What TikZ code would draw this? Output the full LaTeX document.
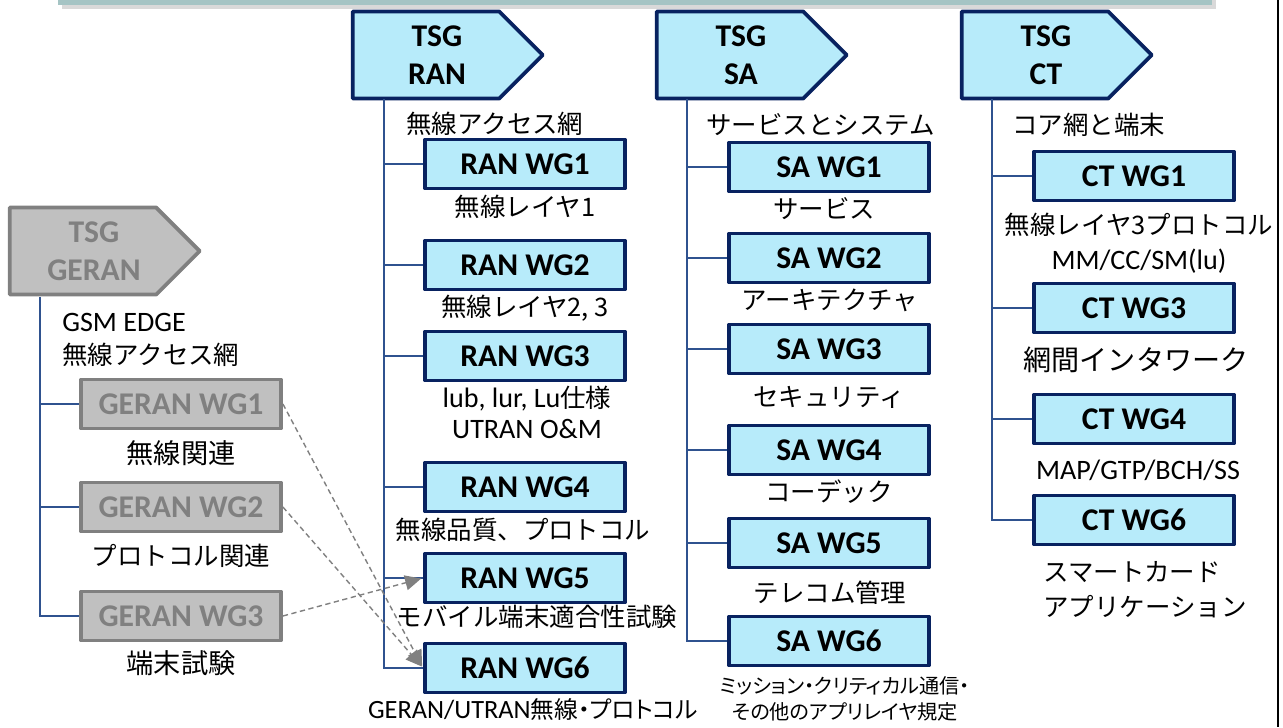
\documentclass[tikz,border=0pt]{standalone}
\usepackage{fontspec}
\setmainfont{Carlito}
\newfontfamily\jp{Noto Sans CJK JP}
\newfontfamily\jpp[RawFeature=+palt]{Noto Sans CJK JP}
\usepackage{tikz}
\usetikzlibrary{positioning, arrows.meta, shapes.symbols}
\definecolor{wgfill}{RGB}{183,235,250}
\definecolor{wgline}{RGB}{8,34,96}
\definecolor{oldfill}{RGB}{192,192,192}
\definecolor{oldline}{RGB}{128,128,128}
\definecolor{treeline}{RGB}{47,82,143}
\definecolor{barfill}{RGB}{165,196,196}
\newcommand{\lat}[1]{{\rmfamily\fontsize{16}{19}\selectfont #1}}
\newcommand{\pad}{\hspace*{0.44cm}}

\begin{document}
\begin{tikzpicture}[x=0.02cm, y=-0.02cm,
    tsg/.style={signal, signal to=east, signal pointer angle=90, draw=wgline, fill=wgfill,
        line width=2.2pt, line join=round, minimum width=3.8cm, minimum height=1.74cm,
        align=center, inner sep=0pt, font=\fontsize{18}{21.5}\selectfont\bfseries},
    wg/.style={rectangle, draw=wgline, fill=wgfill, line width=2.2pt, line join=round,
        minimum width=4cm, minimum height=0.98cm, inner sep=0pt,
        font=\fontsize{18}{21}\selectfont\bfseries},
    old/.style={draw=oldline, fill=oldfill, text=oldline},
    jlabel/.style={align=center, inner sep=0pt, font=\fontsize{14.5}{19}\selectfont\jp},
    llabel/.style={align=center, inner sep=0pt, font=\fontsize{16}{19}\selectfont},
    tree/.style={draw=treeline, line width=0.9pt},
    move/.style={draw=oldline, line width=0.8pt, dash pattern=on 3pt off 2pt, shorten >=0.04cm,
        -{Triangle[length=0.32cm, width=0.3cm]}}
]
\useasboundingbox (0,0) rectangle (1283,727);

% frame bits
\fill[gray!30] (62,0) rectangle (1216,9);
\fill[barfill] (58,0) rectangle (1212,5);
\draw[line width=0.04cm] (1278,0) -- (1278,727);

% TSG heads
\node[tsg, old] (tsggeran) at (83,251) {\pad TSG\\\pad GERAN};
\node[tsg] (tsgran) at (426,55) {\pad TSG\\\pad RAN};
\node[tsg] (tsgsa)  at (730,55) {\pad TSG\\\pad SA};
\node[tsg] (tsgct)  at (1035,55) {\pad TSG\\\pad CT};

\node[jlabel, anchor=west, align=left] (gerannote) at (62,340) {\lat{GSM EDGE}\\無線アクセス網};
\node[jlabel, anchor=west] (rannote) at (406,124) {無線アクセス網};
\node[jlabel, anchor=west] (sanote)  at (706,125) {サービスとシステム};
\node[jlabel, anchor=west] (ctnote)  at (1012,125) {コア網と端末};

% GERAN WGs
\node[wg, old] (geranwg1) at (181,404) {GERAN WG1};
\node[wg, old] (geranwg2) at (181,507) {GERAN WG2};
\node[wg, old] (geranwg3) at (181,616) {GERAN WG3};
\node[jlabel, font=\fontsize{15.5}{19}\selectfont\jp] (geranlab1) at (181,453) {無線関連};
\node[jlabel] (geranlab2) at (181,556) {プロトコル関連};
\node[jlabel, font=\fontsize{15.5}{19}\selectfont\jp] (geranlab3) at (181,663) {端末試験};

% RAN WGs
\node[wg] (ranwg1) at (525,164) {RAN WG1};
\node[wg] (ranwg2) at (525,265) {RAN WG2};
\node[wg] (ranwg3) at (525,356) {RAN WG3};
\node[wg] (ranwg4) at (525,487) {RAN WG4};
\node[wg] (ranwg5) at (525,578) {RAN WG5};
\node[wg] (ranwg6) at (525,668) {RAN WG6};
\node[jlabel] (ranlab1) at (525,207) {無線レイヤ1};
\node[jlabel] (ranlab2) at (525,308) {無線レイヤ2, 3};
\node[llabel, font=\fontsize{16}{17.6}\selectfont] (ranlab3) at (527,412) {lub, lur, Lu{\jp\fontsize{14.5}{17.6}\selectfont 仕様}\\UTRAN O\&M};
\node[jlabel] (ranlab4) at (523,530) {無線品質、プロトコル};
\node[jlabel] (ranlab5) at (537,617) {モバイル端末適合性試験};
\node[jlabel, font=\fontsize{13.5}{17}\selectfont\jpp] (ranlab6) at (533,709) {{\rmfamily\fontsize{15}{17}\selectfont GERAN/UTRAN}無線・プロトコル};

% SA WGs
\node[wg] (sawg1) at (829,167) {SA WG1};
\node[wg] (sawg2) at (829,258) {SA WG2};
\node[wg] (sawg3) at (829,349) {SA WG3};
\node[wg] (sawg4) at (829,450) {SA WG4};
\node[wg] (sawg5) at (829,543) {SA WG5};
\node[wg] (sawg6) at (829,641) {SA WG6};
\node[jlabel] (salab1) at (824,209) {サービス};
\node[jlabel] (salab2) at (830,300) {アーキテクチャ};
\node[jlabel] (salab3) at (829,397) {セキュリティ};
\node[jlabel] (salab4) at (829,492) {コーデック};
\node[jlabel] (salab5) at (830,593) {テレコム管理};
\node[jlabel, font=\fontsize{11.5}{14.7}\selectfont\jpp] (salab6) at (845,699) {ミッション・クリティカル通信・\\その他のアプリレイヤ規定};

% CT WGs
\node[wg] (ctwg1) at (1134,176) {CT WG1};
\node[wg] (ctwg3) at (1134,308) {CT WG3};
\node[wg] (ctwg4) at (1134,419) {CT WG4};
\node[wg] (ctwg6) at (1134,520) {CT WG6};
\node[jlabel, font=\fontsize{14.5}{20}\selectfont\jp] (ctlab1) at (1139,243) {無線レイヤ3プロトコル\\\lat{MM/CC/SM(lu)}};
\node[jlabel, font=\fontsize{16}{19}\selectfont\jp] (ctlab3) at (1136,360) {網間インタワーク};
\node[llabel] (ctlab4) at (1138,470) {MAP/GTP/BCH/SS};
\node[jlabel, anchor=west, align=left, font=\fontsize{14.5}{20}\selectfont\jp] (ctlab6) at (1043,590) {スマートカード\\アプリケーション};

% tree lines
\coordinate (geranroot) at (40,297);
\coordinate (ranroot) at (384,99);
\coordinate (saroot) at (687,99);
\coordinate (ctroot) at (992,99);
\foreach \i in {1,2,3} \draw[tree] (geranroot) |- (geranwg\i.west);
\foreach \i in {1,...,6} \draw[tree] (ranroot) |- (ranwg\i.west);
\foreach \i in {1,...,6} \draw[tree] (saroot) |- (sawg\i.west);
\foreach \i in {1,3,4,6} \draw[tree] (ctroot) |- (ctwg\i.west);

% GERAN work moved to RAN
\draw[move] (geranwg1.east) -- (ranwg6.west);
\draw[move] (geranwg2.east) -- (ranwg6.west);
\draw[move] (geranwg3.east) -- (ranwg5.west);
\end{tikzpicture}
\end{document}
